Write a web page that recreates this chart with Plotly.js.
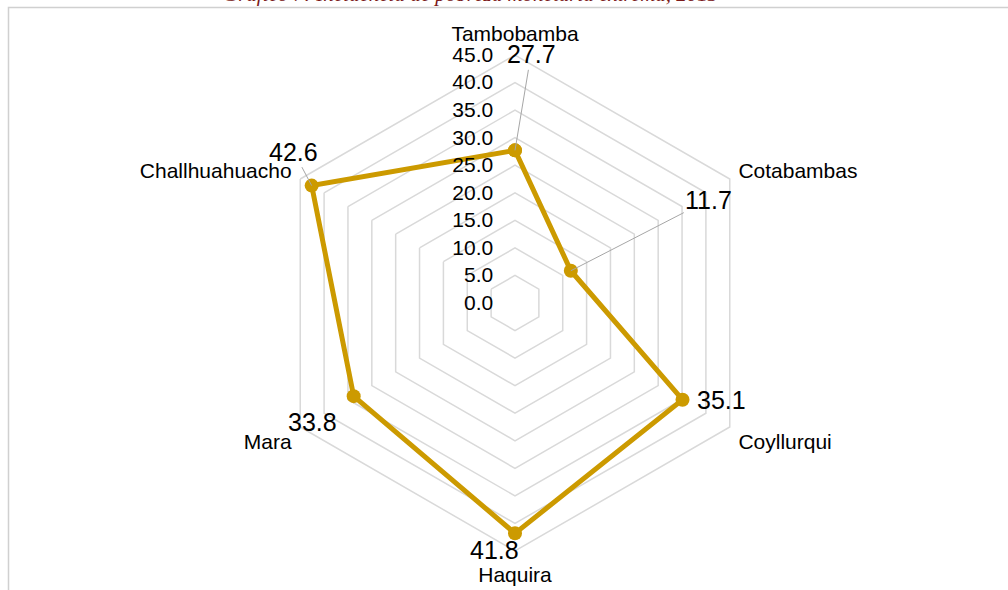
<!DOCTYPE html>
<html>
<head>
<meta charset="utf-8">
<script src="https://cdn.plot.ly/plotly-3.0.1.min.js"></script>
<style>
  html, body { margin: 0; padding: 0; background: #ffffff; }
  #chart { width: 1008px; height: 590px; }
</style>
</head>
<body>
<div id="chart"></div>
<script>
// ---- data ----
const categories = ['Tambobamba', 'Cotabambas', 'Coyllurqui', 'Haquira', 'Mara', 'Challhuahuacho'];
const values = [27.7, 11.7, 35.1, 41.8, 33.8, 42.6];
const radialTickVals = [0, 5, 10, 15, 20, 25, 30, 35, 40, 45];
const radialTickText = ['0.0', '5.0', '10.0', '15.0', '20.0', '25.0', '30.0', '35.0', '40.0', '45.0'];
const titleText = 'Gráfico 7: Incidencia de pobreza monetaria extrema, 2013';

// ---- styling / label placement (pixel offsets from each point) ----
const W = 1008, H = 590;
const labelOffsets = [
  { ax: 16, ay: -96, leader: true },
  { ax: 138, ay: -71, leader: true },
  { ax: 39, ay: 0, leader: false },
  { ax: -21, ay: 17, leader: false },
  { ax: -41, ay: 26, leader: false },
  { ax: -18, ay: -34, leader: true }
];

const cx = 515, cy = 303, R = 248;
const domX = [(cx - R) / W, (cx + R) / W];
const domY = [1 - (cy + R) / H, 1 - (cy - R) / H];

const gold = '#cc9a00';
const grid = '#d9d9d9';

const trace = {
  type: 'scatterpolar',
  r: values.concat([values[0]]),
  theta: categories.concat([categories[0]]),
  mode: 'lines+markers',
  line: { color: gold, width: 5 },
  marker: { color: gold, size: 14 },
  hoverinfo: 'skip',
  showlegend: false
};

const baseAnnotations = [
  {
    text: titleText,
    xref: 'paper', yref: 'paper',
    x: 470 / W, y: 1, xanchor: 'center', yanchor: 'bottom', yshift: -8,
    showarrow: false,
    font: { family: 'Liberation Serif, DejaVu Serif, serif', size: 21, color: '#7b1a1a', style: 'italic' }
  }
];

const layout = {
  width: W, height: H,
  margin: { l: 0, r: 0, t: 0, b: 0 },
  paper_bgcolor: '#ffffff',
  font: { family: 'Liberation Sans, Arial, sans-serif', color: '#000000' },
  showlegend: false,
  polar: {
    domain: { x: domX, y: domY },
    gridshape: 'linear',
    bgcolor: 'rgba(0,0,0,0)',
    radialaxis: {
      range: [0, 45],
      tickmode: 'array',
      tickvals: radialTickVals,
      ticktext: radialTickText,
      angle: 90,
      tickangle: 90,
      side: 'counterclockwise',
      showline: false,
      ticks: 'outside',
      ticklen: 14,
      tickcolor: 'rgba(0,0,0,0)',
      gridcolor: grid,
      gridwidth: 1.5,
      tickfont: { size: 21, color: '#000000' }
    },
    angularaxis: {
      type: 'category',
      categoryarray: categories,
      rotation: 90,
      direction: 'clockwise',
      showgrid: false,
      showline: true,
      linecolor: grid,
      linewidth: 1.5,
      ticks: 'outside',
      ticklen: 5,
      tickcolor: 'rgba(0,0,0,0)',
      tickfont: { size: 21, color: '#000000' }
    }
  },
  shapes: [
    {
      type: 'rect', xref: 'paper', yref: 'paper',
      x0: 8.5 / W, x1: 1.05, y0: -0.05, y1: 1 - 7.5 / H,
      line: { color: '#d0d0d0', width: 1.5 },
      fillcolor: 'rgba(0,0,0,0)',
      layer: 'below'
    }
  ],
  annotations: baseAnnotations
};

const gd = document.getElementById('chart');
Plotly.newPlot(gd, [trace], layout, { displayModeBar: false, staticPlot: true }).then(function () {
  const gb = gd.getBoundingClientRect();
  const pts = gd.querySelectorAll('.scatterlayer .trace path.point');
  const anns = [];
  for (let i = 0; i < values.length && i < pts.length; i++) {
    const b = pts[i].getBoundingClientRect();
    const px = b.left + b.width / 2 - gb.left;
    const py = b.top + b.height / 2 - gb.top;
    const o = labelOffsets[i];
    anns.push({
      text: values[i].toFixed(1),
      xref: 'paper', yref: 'paper',
      x: px / W, y: 1 - py / H,
      showarrow: true, arrowhead: 0, arrowwidth: 1,
      arrowcolor: o.leader ? '#a6a6a6' : 'rgba(0,0,0,0)',
      standoff: 0, startstandoff: 0,
      ax: o.ax, ay: o.ay,
      font: { size: 25, color: '#000000' }
    });
  }
  return Plotly.relayout(gd, { annotations: baseAnnotations.concat(anns) });
});
</script>
</body>
</html>
